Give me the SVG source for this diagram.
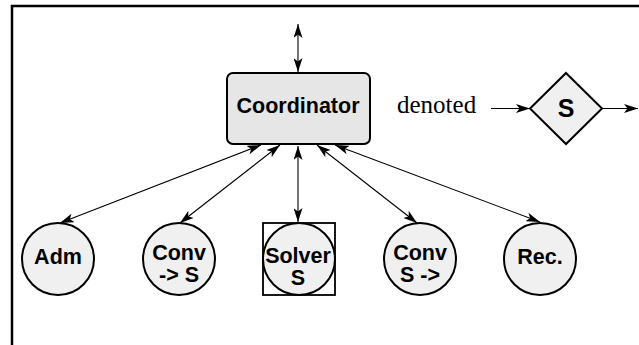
<svg xmlns="http://www.w3.org/2000/svg" width="639" height="345" viewBox="0 0 639 345">
  <style>
    .frame { stroke: #000; stroke-width: 2.5; fill: none; }
    .link { stroke: #000; stroke-width: 1.1; fill: none; marker-start: url(#head); marker-end: url(#head); }
    .flow { stroke: #000; stroke-width: 1.1; fill: none; marker-end: url(#head); }
    .node { fill: #f0f0f0; stroke: #000; stroke-width: 2; }
    .coord { fill: #e6e6e6; stroke: #000; stroke-width: 2; }
    .box { fill: none; stroke: #000; stroke-width: 1.8; }
    .lbl { font-family: "Liberation Sans", Arial, sans-serif; font-weight: bold; font-size: 21.5px; text-anchor: middle; fill: #000; }
    .big { font-size: 25px; }
    .note { font-family: "Liberation Serif", "Times New Roman", serif; font-size: 25px; fill: #000; }
  </style>
  <defs>
    <marker id="head" viewBox="0 0 14 9" markerWidth="14" markerHeight="9" refX="14" refY="4.5" orient="auto-start-reverse" markerUnits="userSpaceOnUse">
      <path d="M0,0 L14,4.5 L0,9 L3.5,4.5 Z" fill="#000"/>
    </marker>
  </defs>

  <!-- page frame: top and left edges -->
  <path class="frame" d="M12,345 L12,6 L639,6"/>

  <g id="connectors">
    <line class="link" x1="298" y1="24" x2="298" y2="72"/>
    <line class="link" x1="261" y1="145" x2="60" y2="223"/>
    <line class="link" x1="280" y1="145" x2="180" y2="223"/>
    <line class="link" x1="298" y1="146" x2="298" y2="222"/>
    <line class="link" x1="317" y1="145" x2="417" y2="223"/>
    <line class="link" x1="335" y1="145" x2="540" y2="222"/>
    <line class="flow" x1="491" y1="108.5" x2="530" y2="108.5"/>
    <line class="flow" x1="602" y1="108.5" x2="638" y2="108.5"/>
  </g>

  <g id="coordinator">
    <rect class="coord" x="227" y="73" width="143" height="71" rx="6" ry="6"/>
    <text class="lbl" x="298" y="113">Coordinator</text>
  </g>

  <g id="legend">
    <text class="note" x="397" y="113">denoted</text>
  </g>

  <g id="solver-symbol">
    <polygon class="node" points="566,73 602,108.5 566,144 530,108.5"/>
    <text class="lbl big" x="566" y="117">S</text>
  </g>

  <g id="adm">
    <circle class="node" cx="58" cy="259" r="36"/>
    <text class="lbl" x="58" y="264">Adm</text>
  </g>

  <g id="conv-to-s">
    <circle class="node" cx="179" cy="259" r="36"/>
    <text class="lbl" x="179" y="260">Conv</text>
    <text class="lbl" x="179" y="282">-&gt; S</text>
  </g>

  <g id="solver">
    <rect class="box" x="263" y="223" width="72" height="72"/>
    <circle class="node" cx="299" cy="259" r="36"/>
    <text class="lbl" x="298" y="263">Solver</text>
    <text class="lbl" x="298" y="285">S</text>
  </g>

  <g id="conv-from-s">
    <circle class="node" cx="420" cy="259" r="36"/>
    <text class="lbl" x="420" y="260">Conv</text>
    <text class="lbl" x="420" y="282">S -&gt;</text>
  </g>

  <g id="rec">
    <circle class="node" cx="540" cy="259" r="36"/>
    <text class="lbl" x="540" y="264">Rec.</text>
  </g>
</svg>
